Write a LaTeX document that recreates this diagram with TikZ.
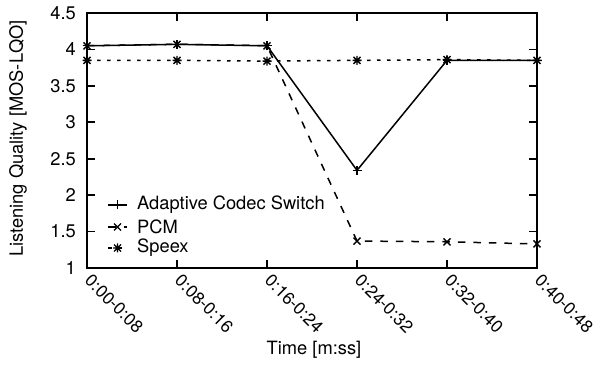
\documentclass[tikz,border=0pt]{standalone}
\usepackage{fontspec}
\setmainfont{TeX Gyre Heros}
\begin{document}
\begin{tikzpicture}[x=1pt,y=1pt,
  lbl/.style={font=\fontsize{18.3}{21}\selectfont, inner sep=0pt},
  xlbl/.style={font=\fontsize{17.4}{20}\selectfont, inner sep=0pt, rotate=-45, anchor=west},
  frame/.style={line width=1.8pt},
  tick/.style={line width=1.6pt},
  adaptive/.style={line width=1.5pt, solid},
  pcm/.style={line width=1.5pt, dash pattern=on 7.5pt off 8pt},
  speex/.style={line width=1.5pt, dash pattern=on 3.5pt off 6.5pt},
  mk plus/.pic={\draw[line width=1.4pt,solid] (-4.5pt,0)--(4.5pt,0) (0,-4.5pt)--(0,4.5pt);},
  mk cross/.pic={\draw[line width=1.4pt,solid] (-3.5pt,-3.5pt)--(3.5pt,3.5pt) (-3.5pt,3.5pt)--(3.5pt,-3.5pt);},
  mk star/.pic={\draw[line width=1.4pt,solid] (-4.5pt,0)--(4.5pt,0) (0,-4.5pt)--(0,4.5pt)
      (-3.5pt,-3.5pt)--(3.5pt,3.5pt) (-3.5pt,3.5pt)--(3.5pt,-3.5pt);}
]
\useasboundingbox (0,0) rectangle (596,364);

\begin{scope}[shift={(87pt,23.143pt)}, x=90pt, y=72.857pt]
  % frame corners
  \coordinate (BL) at (0,1);
  \coordinate (TR) at (5,4.5);
  % ticks
  \foreach \v in {1.5,2,...,4} {
    \draw[tick] (0,\v) -- ++(8pt,0);
    \draw[tick] (5,\v) -- ++(-8pt,0);
  }
  \foreach \v in {1,1.5,...,4.5} {
    \node[lbl, anchor=east] (yl\v) at ([xshift=-11pt]0,\v) {\v};
  }
  \foreach \i in {1,...,4} {
    \draw[tick] (\i,1) -- ++(0,8pt);
    \draw[tick] (\i,4.5) -- ++(0,-8pt);
  }
  \foreach \i/\t in {0/0:00-0:08,1/0:08-0:16,2/0:16-0:24,3/0:24-0:32,4/0:32-0:40,5/0:40-0:48} {
    \node[xlbl] (xl\i) at ([xshift=1pt,yshift=-9.5pt]\i,1) {\t};
  }

  % data coordinates
  \foreach \i/\v in {0/4.05,1/4.07,2/4.05,3/2.34,4/3.85,5/3.85} \coordinate (a\i) at (\i,\v);
  \foreach \i/\v in {0/4.05,1/4.07,2/4.05,3/1.37,4/1.36,5/1.33} \coordinate (p\i) at (\i,\v);
  \foreach \i/\v in {0/3.85,1/3.85,2/3.84,3/3.85,4/3.86,5/3.85} \coordinate (s\i) at (\i,\v);

  \draw[speex] (s0) -- (s1) -- (s2) -- (s3) -- (s4) -- (s5);
  \draw[pcm] (p0) -- (p1) -- (p2) -- (p3) -- (p4) -- (p5);
  \draw[adaptive] (a0) -- (a1) -- (a2) -- (a3) -- (a4) -- (a5);
  \foreach \i in {0,...,5} {
    \pic at (s\i) {mk star};
    \pic at (p\i) {mk cross};
    \pic at (a\i) {mk plus};
  }

  \draw[frame] (BL) rectangle (TR);
\end{scope}

% legend
\coordinate (k1a) at (108,159); \coordinate (k1b) at (127,159);
\coordinate (k2a) at (108,137); \coordinate (k2b) at (127,137);
\coordinate (k3a) at (108,116); \coordinate (k3b) at (127,116);
\draw[adaptive] (k1a) -- (k1b); \pic at (117.5,159) {mk plus};
\draw[pcm] (k2a) -- (k2b); \pic at (117.5,137) {mk cross};
\draw[speex] (k3a) -- (k3b); \pic at (117.5,116) {mk star};
\node[lbl, anchor=west] (k1) at (137,159) {Adaptive Codec Switch};
\node[lbl, anchor=west] (k2) at (137,137) {PCM};
\node[lbl, anchor=west] (k3) at (137,116) {Speex};

% axis titles
\node[lbl, rotate=90] (ylab) at (18,225.5) {Listening Quality [MOS-LQO]};
\node[lbl] (xlab) at (314,14) {Time [m:ss]};
\end{tikzpicture}
\end{document}
